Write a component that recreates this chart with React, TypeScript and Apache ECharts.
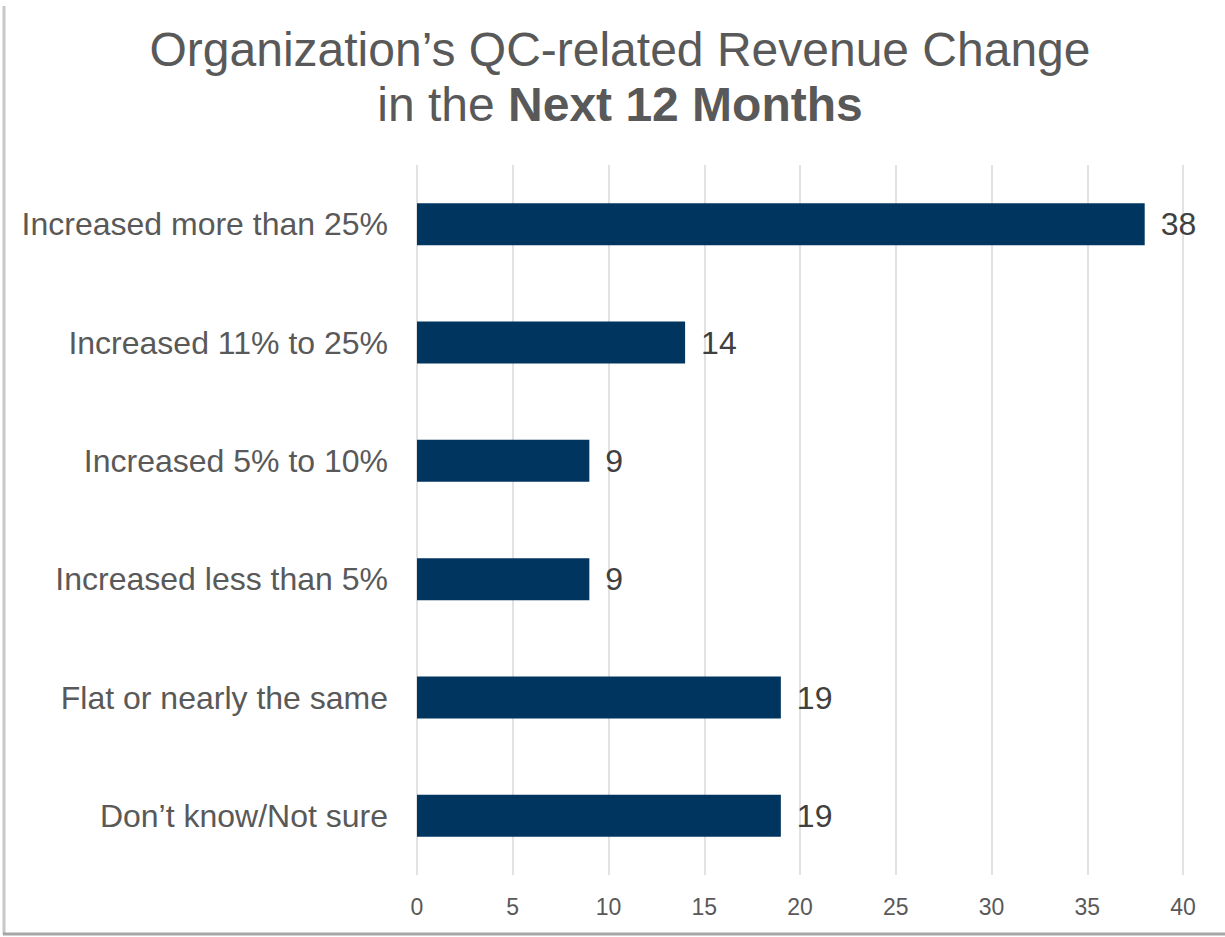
import React, { useEffect, useRef } from "react";
import * as echarts from "echarts";

const categories = [
  "Increased more than 25%",
  "Increased 11% to 25%",
  "Increased 5% to 10%",
  "Increased less than 5%",
  "Flat or nearly the same",
  "Don’t know/Not sure",
];
const values = [38, 14, 9, 9, 19, 19];

export default function App() {
  const ref = useRef<HTMLDivElement>(null);
  useEffect(() => {
    document.body.style.margin = "0";
    const chart = echarts.init(ref.current!, null, { renderer: "svg" });
    chart.setOption({
      animation: false,
      backgroundColor: "#ffffff",
      textStyle: { fontFamily: "Liberation Sans, Arial, sans-serif" },
      title: {
        text: "Organization’s QC-related Revenue Change\nin the {b|Next 12 Months}",
        left: 615,
        top: 17,
        textAlign: "center",
        textStyle: {
          fontSize: 48,
          fontWeight: "normal",
          color: "#595959",
          lineHeight: 55,
          fontFamily: "Liberation Sans, Arial, sans-serif",
          rich: {
            b: {
              fontSize: 48,
              fontWeight: "bold",
              color: "#595959",
              lineHeight: 55,
              fontFamily: "Liberation Sans, Arial, sans-serif",
            },
          },
        },
      },
      grid: { left: 417, right: 42, top: 165, bottom: 62, containLabel: false },
      xAxis: {
        type: "value",
        min: 0,
        max: 40,
        interval: 5,
        axisLine: { show: false },
        axisTick: { show: false },
        splitLine: { show: true, lineStyle: { color: "#d9d9d9", width: 1.5 } },
        axisLabel: { fontSize: 23, color: "#595959", margin: 20 },
      },
      yAxis: {
        type: "category",
        data: categories,
        inverse: true,
        axisLine: { show: false },
        axisTick: { show: false },
        axisLabel: { fontSize: 32, color: "#595959", margin: 29 },
      },
      series: [
        {
          type: "bar",
          data: values,
          barWidth: 42,
          itemStyle: { color: "#00355f" },
          label: {
            show: true,
            position: "right",
            distance: 16,
            fontSize: 32,
            color: "#404040",
          },
        },
      ],
      graphic: [
        {
          type: "line",
          shape: { x1: 4, y1: 6, x2: 4, y2: 935 },
          style: { stroke: "#c8c8c8", lineWidth: 3 },
        },
        {
          type: "line",
          shape: { x1: 3, y1: 934, x2: 1225, y2: 934 },
          style: { stroke: "#a6a6a6", lineWidth: 3 },
        },
      ],
    });
    return () => chart.dispose();
  }, []);
  return <div ref={ref} style={{ width: 1225, height: 937 }} />;
}
